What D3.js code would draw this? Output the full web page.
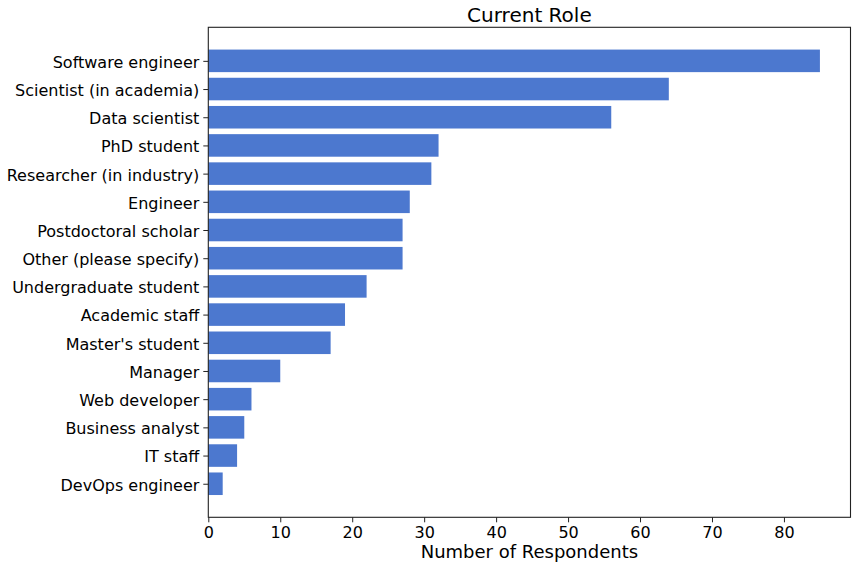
<!DOCTYPE html>
<html>
<head>
<meta charset="utf-8">
<script src="https://cdn.jsdelivr.net/npm/d3@7"></script>
<style>
  body { margin: 0; background: #fff; }
  svg { display: block; font-family: "DejaVu Sans", sans-serif; }
</style>
</head>
<body>
<svg id="chart" width="856" height="568"></svg>
<script>
const roles = [
  "Software engineer", "Scientist (in academia)", "Data scientist", "PhD student",
  "Researcher (in industry)", "Engineer", "Postdoctoral scholar", "Other (please specify)",
  "Undergraduate student", "Academic staff", "Master's student", "Manager",
  "Web developer", "Business analyst", "IT staff", "DevOps engineer"
];
const counts = [85, 64, 56, 32, 31, 28, 27, 27, 22, 19, 17, 10, 6, 5, 4, 2];
const xTicks = [0, 10, 20, 30, 40, 50, 60, 70, 80];

const svg = d3.select("#chart");
const m = { left: 208.3, right: 850.5, top: 27.3, bottom: 517.3 };
const barColor = "#4c78cf";

const maxV = d3.max(counts);
const x = d3.scaleLinear().domain([0, maxV * 1.05]).range([m.left, m.right]);

// matplotlib-style band: index positions, bar height 0.8, 5% margins
const n = roles.length;
const pad = (n - 1 + 0.8) * 0.05;
const y = d3.scaleLinear().domain([-0.4 - pad, n - 1 + 0.4 + pad]).range([m.top, m.bottom]);
const bh = y(0.8) - y(0);

svg.append("g")
  .selectAll("rect")
  .data(counts)
  .join("rect")
  .attr("x", x(0))
  .attr("y", (d, i) => y(i - 0.4))
  .attr("width", d => x(d) - x(0))
  .attr("height", bh)
  .attr("fill", barColor);

// frame
svg.append("rect")
  .attr("x", m.left).attr("y", m.top)
  .attr("width", m.right - m.left).attr("height", m.bottom - m.top)
  .attr("fill", "none").attr("stroke", "#222").attr("stroke-width", 1.1);

const xAxis = svg.append("g")
  .attr("transform", `translate(0,${m.bottom})`)
  .call(d3.axisBottom(x).tickValues(xTicks).tickSize(5).tickPadding(4).tickFormat(d3.format("d")));
xAxis.select(".domain").remove();
xAxis.selectAll("line").attr("stroke", "#222");
xAxis.selectAll("text").attr("font-size", 16).attr("fill", "#000").attr("font-family", "DejaVu Sans");

const yAxis = svg.append("g")
  .attr("transform", `translate(${m.left},0)`)
  .call(d3.axisLeft(d3.scalePoint().domain(roles).range([y(0), y(n - 1)])).tickSize(5).tickPadding(4));
yAxis.select(".domain").remove();
yAxis.selectAll("line").attr("stroke", "#222");
yAxis.selectAll("text").attr("font-size", 16).attr("fill", "#000").attr("font-family", "DejaVu Sans")
  .attr("dy", "0.4em");

svg.append("text")
  .attr("x", (m.left + m.right) / 2)
  .attr("y", 22)
  .attr("text-anchor", "middle")
  .attr("font-size", 20)
  .text("Current Role");

svg.append("text")
  .attr("x", (m.left + m.right) / 2)
  .attr("y", 558)
  .attr("text-anchor", "middle")
  .attr("font-size", 18)
  .text("Number of Respondents");
</script>
</body>
</html>
